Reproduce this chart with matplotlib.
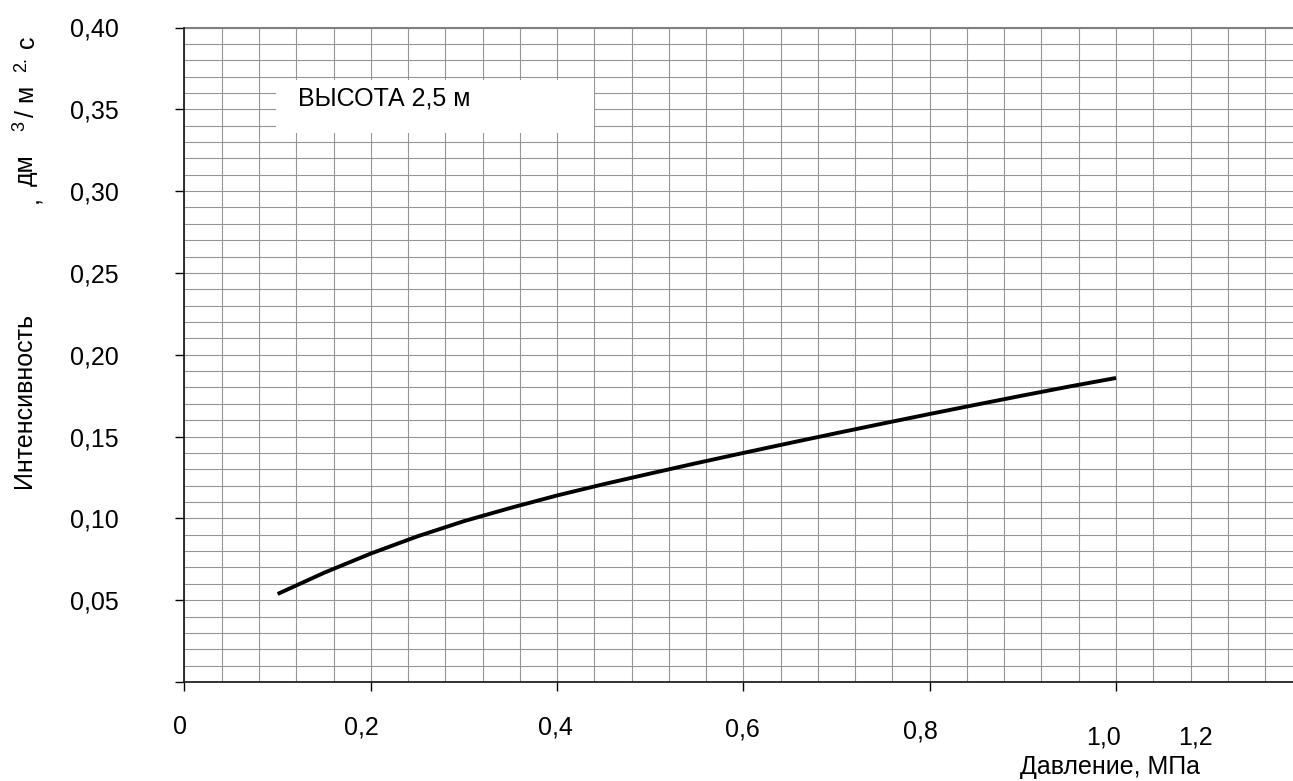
import numpy as np
import matplotlib
matplotlib.use('Agg')
import matplotlib.pyplot as plt
from matplotlib.ticker import MultipleLocator
from matplotlib.patches import Rectangle

plt.rcParams['font.family'] = ['Liberation Sans', 'DejaVu Sans']

# давление, МПа
pressure = [0.10, 0.15, 0.20, 0.25, 0.30, 0.35, 0.40, 0.45, 0.50, 0.55,
            0.60, 0.65, 0.70, 0.75, 0.80, 0.85, 0.90, 0.95, 1.00]
# интенсивность, дм3/м2*с (высота 2,5 м)
intensity = [0.0538, 0.0668, 0.0785, 0.0890, 0.0983, 0.1064, 0.1140, 0.1209, 0.1274, 0.1338,
             0.1400, 0.1461, 0.1521, 0.1580, 0.1638, 0.1695, 0.1751, 0.1806, 0.1858]

x_ticks = [0, 0.2, 0.4, 0.6, 0.8, 1.0]
# подписи оси X стоят не точно под рисками (как в оригинале), плюс лишняя "1,2"
x_labels = ['0', '0,2', '0,4', '0,6', '0,8', '1,0', '1,2']
x_label_px = [(180, 727), (361, 727), (555, 727), (742, 729), (920, 732), (1103, 737), (1195, 738)]
y_ticks = [0, 0.05, 0.10, 0.15, 0.20, 0.25, 0.30, 0.35, 0.40]
y_labels = ['', '0,05', '0,10', '0,15', '0,20', '0,25', '0,30', '0,35', '0,40']

W, H = 1293, 781
fs = 18
fig = plt.figure(figsize=(W / 100, H / 100), dpi=100)
ax = fig.add_axes([184.5 / W, 1 - 682 / H, 1 - 184.5 / W, (682 - 27.5) / H])

ax.set_xlim(0, (W - 184.5) / 931.5)
ax.set_ylim(0, 0.40)

ax.xaxis.set_minor_locator(MultipleLocator(0.04))
ax.yaxis.set_minor_locator(MultipleLocator(0.01))
ax.grid(which='both', color='#959595', lw=0.8)
ax.set_axisbelow(True)
ax.axhline(0.40, color='#808080', lw=1.5, clip_on=False)

ax.set_xticks(x_ticks)
ax.set_xticklabels([])
ax.set_yticks(y_ticks)
ax.set_yticklabels(y_labels, fontsize=fs)
ax.tick_params(which='major', direction='out', length=6.5, width=1.0, color='black')
ax.tick_params(axis='y', which='major', pad=41)
ax.tick_params(which='minor', length=0)

for s in ['top', 'right']:
    ax.spines[s].set_visible(False)
for s in ['left', 'bottom']:
    ax.spines[s].set_color('#222222')
    ax.spines[s].set_linewidth(1.3)

ax.plot(pressure, intensity, color='black', lw=2.8, solid_capstyle='butt',
        solid_joinstyle='round', zorder=3)

# подпись "ВЫСОТА 2,5 м"
ax.add_patch(Rectangle((0.0982, 0.3356), 0.3414, 0.0324, facecolor='white',
                       edgecolor='none', zorder=2))
ax.text(0.1218, 0.3564, 'ВЫСОТА 2,5 м', fontsize=fs, va='center', ha='left', zorder=4)

for lab, (px, py) in zip(x_labels, x_label_px):
    fig.text(px / W, 1 - py / H, lab, fontsize=fs, ha='center', va='center')

fig.text(1110 / W, 1 - 767 / H, 'Давление, МПа', fontsize=fs, ha='center', va='center')

# подпись оси Y по частям
def ytxt(px, py, s, size=fs):
    fig.text(px / W, 1 - py / H, s, fontsize=size, rotation=90, ha='center', va='center')

ytxt(24, 400, 'Интенсивность')
ytxt(31.5, 200, ',')
ytxt(25.5, 170, 'дм')
ytxt(20, 126, '3', 13)
ytxt(26.5, 101, '/ м')
ytxt(21.5, 65, '2.', 13)
ytxt(27, 42, 'с')

fig.savefig('out.png', dpi=100)
